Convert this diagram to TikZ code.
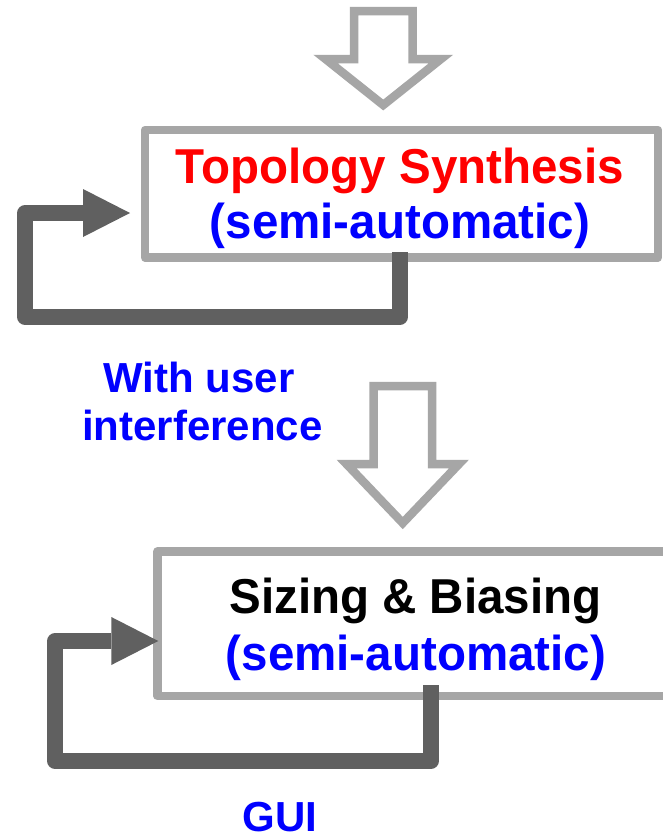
\documentclass[tikz,border=0pt]{standalone}
\usepackage{fontspec}
\setmainfont{Liberation Sans}
\newfontfamily\stagefont[FakeStretch=0.97]{Liberation Sans}
\usetikzlibrary{arrows.meta}
\definecolor{framegray}{HTML}{A6A6A6}
\definecolor{loopgray}{HTML}{606060}
\definecolor{txtblue}{HTML}{0000FF}
\definecolor{txtred}{HTML}{FF0000}

\begin{document}
\begin{tikzpicture}[x=1pt,y=-1pt,
  stagebox/.style={draw=framegray,line width=8.5pt,line join=round,rectangle,
    inner sep=0pt,outer sep=0pt,fill=white},
  flowarrow/.style={draw=framegray,fill=white,line width=8.5pt,line join=miter},
  feedback/.style={draw=loopgray,line width=15.5pt,line join=round,line cap=butt,
    -{Triangle[length=47pt,width=48pt,line width=0pt]}},
  bigtxt/.style={font=\stagefont\bfseries\fontsize{49}{49}\selectfont,anchor=base,inner sep=0pt},
  midtxt/.style={font=\bfseries\fontsize{42}{42}\selectfont,anchor=base,inner sep=0pt,text=txtblue}]

% page
\fill[white] (0,0) rectangle (662,836);
\useasboundingbox (0,0) rectangle (662,836);

% hollow block arrows
\draw[flowarrow] (354,11) -- (412.5,11) -- (412.5,59) -- (441,59) -- (383.25,105)
  -- (325.5,59) -- (354,59) -- cycle;
\draw[flowarrow] (373.5,386) -- (432,386) -- (432,464) -- (459,464) -- (402.75,523)
  -- (346.5,464) -- (373.5,464) -- cycle;

% stage 1
\node[stagebox,minimum width=513pt,minimum height=127.5pt] (synth) at (401.5,193.75) {};
\node[bigtxt,text=txtred] (synthA) at (400,183) {Topology Synthesis};
\node[bigtxt,text=txtblue] (synthB) at (400,238) {(semi-automatic)};

% stage 2
\node[stagebox,minimum width=522.5pt,minimum height=144.5pt] (sizing) at (418.75,623.75) {};
\node[bigtxt,text=black] (sizingA) at (415.5,613) {Sizing \& Biasing};
\node[bigtxt,text=txtblue] (sizingB) at (416,670) {(semi-automatic)};

% labels
\node[midtxt] (userA) at (199,392) {With user};
\node[midtxt] (userB) at (202.5,440) {interference};
\node[midtxt] (gui) at (280,831) {GUI};

% feedback loops
\coordinate (s1) at (400,252);
\coordinate (t1) at (130,213);
\draw[feedback] (s1) -- (400,317) -- (25,317) -- (25,213) -- (t1);

\coordinate (s2) at (431,685);
\coordinate (t2) at (158.3,641);
\draw[feedback] (s2) -- (431,761) -- (55,761) -- (55,641) -- (t2);
\end{tikzpicture}
\end{document}
